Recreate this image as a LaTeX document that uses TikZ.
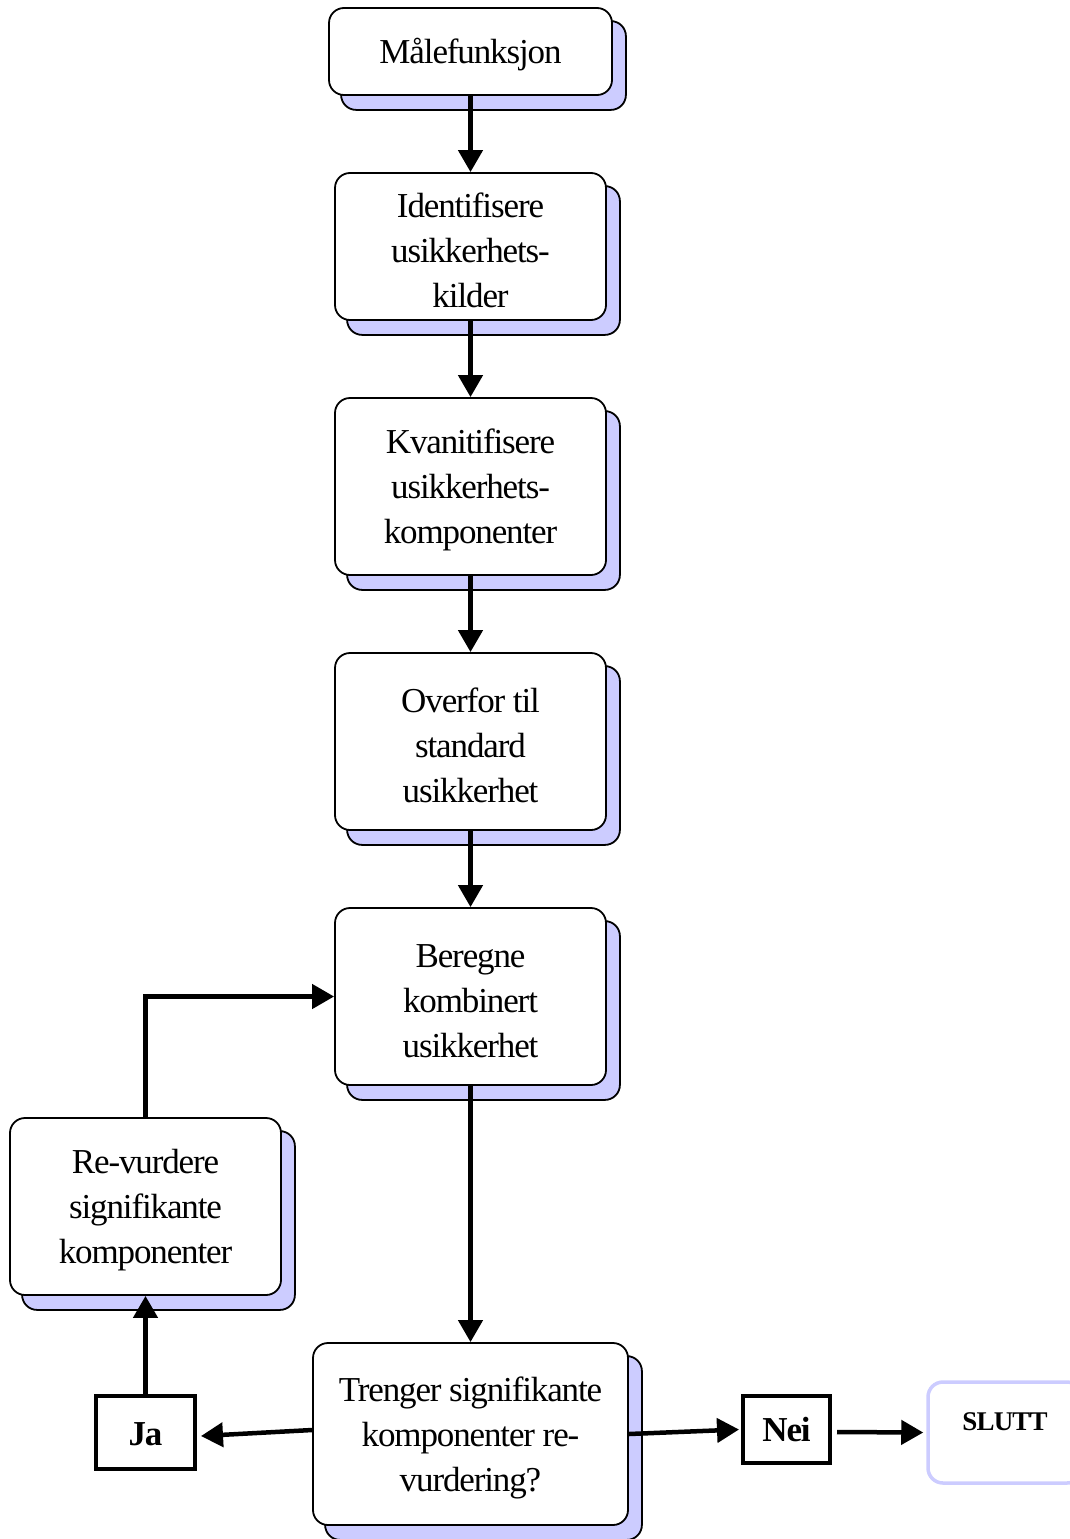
\documentclass[tikz,border=0pt]{standalone}
\usepackage{fontspec}
\setmainfont{Liberation Serif}[LetterSpace=-3.2]
\usetikzlibrary{arrows.meta,backgrounds,calc}
\definecolor{lav}{HTML}{CCCCFF}
\newcommand{\tstrut}{\rule{0pt}{32pt}}
\tikzset{
  procbox/.style={draw=black, line width=1.8pt, rounded corners=15pt, fill=white, align=center,
    font=\fontsize{35}{45}\selectfont, inner sep=0pt},
  shadowbox/.style={draw=black, line width=1.8pt, rounded corners=15pt, fill=lav},
  answer/.style={draw=black, line width=4pt, fill=white, font=\bfseries\fontsize{35}{38}\selectfont, inner sep=0pt},
  endbox/.style={draw=lav, line width=3.5pt, rounded corners=15pt, font=\bfseries\fontsize{27}{30}\selectfont, inner sep=0pt},
  flow/.style={line width=4.5pt, -{Triangle[length=22pt,width=24pt]}}
}
\newcommand{\shadowof}[1]{\draw[shadowbox] ($(#1.south west)+(13,14)$) rectangle ($(#1.north east)+(13,14)$);}
\begin{document}
\begin{tikzpicture}[x=1pt,y=-1pt]
\useasboundingbox (0,0) rectangle (1069,1539);
\node[procbox, minimum width=283pt, minimum height=87pt] (b1) at (470.5,51.5) {\tstrut Målefunksjon};
\node[procbox, minimum width=271pt, minimum height=147pt] (b2) at (470.5,246.5) {\tstrut Identifisere\\usikkerhets-\\kilder};
\node[procbox, minimum width=271pt, minimum height=177pt] (b3) at (470.5,486.5) {\tstrut Kvanitifisere\\usikkerhets-\\komponenter};
\node[procbox, minimum width=271pt, minimum height=177pt] (b4) at (470.5,741.5) {\tstrut Overfor til\\standard\\usikkerhet};
\node[procbox, minimum width=271pt, minimum height=177pt] (b5) at (470.5,996.5) {\tstrut Beregne\\kombinert\\usikkerhet};
\node[procbox, minimum width=271pt, minimum height=177pt] (b6) at (145.5,1206.5) {\tstrut Re-vurdere\\signifikante\\komponenter};
\node[procbox, minimum width=315pt, minimum height=182pt] (b7) at (470.5,1434) {\tstrut Trenger signifikante\\komponenter re-\\vurdering?};
\node[answer, minimum width=99pt, minimum height=73pt, text height=26pt] (ja) at (145.5,1432.5) {Ja};
\node[answer, minimum width=87pt, minimum height=67pt] (nei) at (786.5,1429.5) {Nei};
\node[endbox, minimum width=154pt, minimum height=101pt, text depth=22pt] (slutt) at (1005,1432.5) {SLUTT};
\begin{scope}[on background layer]
\shadowof{b1}
\shadowof{b2}
\shadowof{b3}
\shadowof{b4}
\shadowof{b5}
\shadowof{b6}
\shadowof{b7}
\end{scope}
\draw[flow] (b1.south) -- (b2.north);
\draw[flow] (b2.south) -- (b3.north);
\draw[flow] (b3.south) -- (b4.north);
\draw[flow] (b4.south) -- (b5.north);
\draw[flow] (b5.south) -- (b7.north);
\draw[flow] (b6.north) |- (b5.west);
\draw[flow] (ja.north) -- (b6.south);
\draw[flow] ([yshift=4pt]b7.west) -- ([xshift=4pt,yshift=-3.5pt]ja.east);
\draw[flow] (b7.east) -- ([xshift=-2pt]nei.west);
\draw[flow] ([xshift=5pt,yshift=-2.5pt]nei.east) -- ([xshift=-3pt]slutt.west);
\end{tikzpicture}
\end{document}
